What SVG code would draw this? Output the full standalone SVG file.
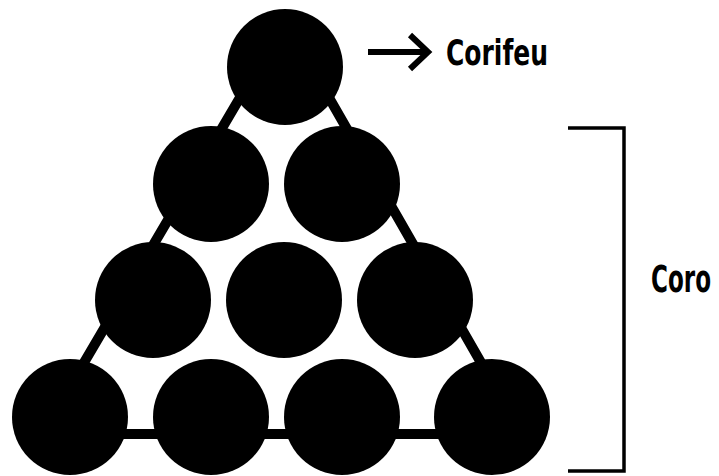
<svg xmlns="http://www.w3.org/2000/svg" width="719" height="476" viewBox="0 0 719 476">
  <style>
    .node { fill: #000; }
    .edge { fill: none; stroke: #000; stroke-width: 10; stroke-linejoin: round; }
    .bracket { fill: none; stroke: #000; stroke-width: 3.5; }
    .arrow { fill: none; stroke: #000; stroke-width: 6; }
    .label { font-family: "Liberation Sans Narrow", "DejaVu Sans Condensed", "Liberation Sans", sans-serif; font-weight: bold; fill: #000; }
  </style>
  <rect width="719" height="476" fill="#fff"/>
  <g id="connectors">
    <polygon class="edge" points="285,21 42,434 522,434"/>
  </g>
  <g id="n-top"><circle class="node" cx="285" cy="67" r="58"/></g>
  <g id="n-r2-1"><circle class="node" cx="211" cy="184" r="58"/></g>
  <g id="n-r2-2"><circle class="node" cx="342" cy="184" r="58"/></g>
  <g id="n-r3-1"><circle class="node" cx="153" cy="300" r="58"/></g>
  <g id="n-r3-2"><circle class="node" cx="284" cy="300" r="58"/></g>
  <g id="n-r3-3"><circle class="node" cx="415" cy="300" r="58"/></g>
  <g id="n-r4-1"><circle class="node" cx="70" cy="417" r="58"/></g>
  <g id="n-r4-2"><circle class="node" cx="211" cy="417" r="58"/></g>
  <g id="n-r4-3"><circle class="node" cx="342" cy="417" r="58"/></g>
  <g id="n-r4-4"><circle class="node" cx="492" cy="417" r="58"/></g>
  <g id="corifeu-label">
    <line class="arrow" x1="368" y1="52" x2="427" y2="52"/>
    <polyline class="arrow" points="410,35 428,52 410,69"/>
    <text class="label" font-size="36" x="446" y="65" textLength="102" lengthAdjust="spacingAndGlyphs">Corifeu</text>
  </g>
  <g id="coro-label">
    <polyline class="bracket" points="568,128 624,128 624,471 568,471"/>
    <text class="label" font-size="27" transform="translate(651,292) scale(1,1.38)" x="0" y="0" textLength="60" lengthAdjust="spacingAndGlyphs">Coro</text>
  </g>
</svg>
